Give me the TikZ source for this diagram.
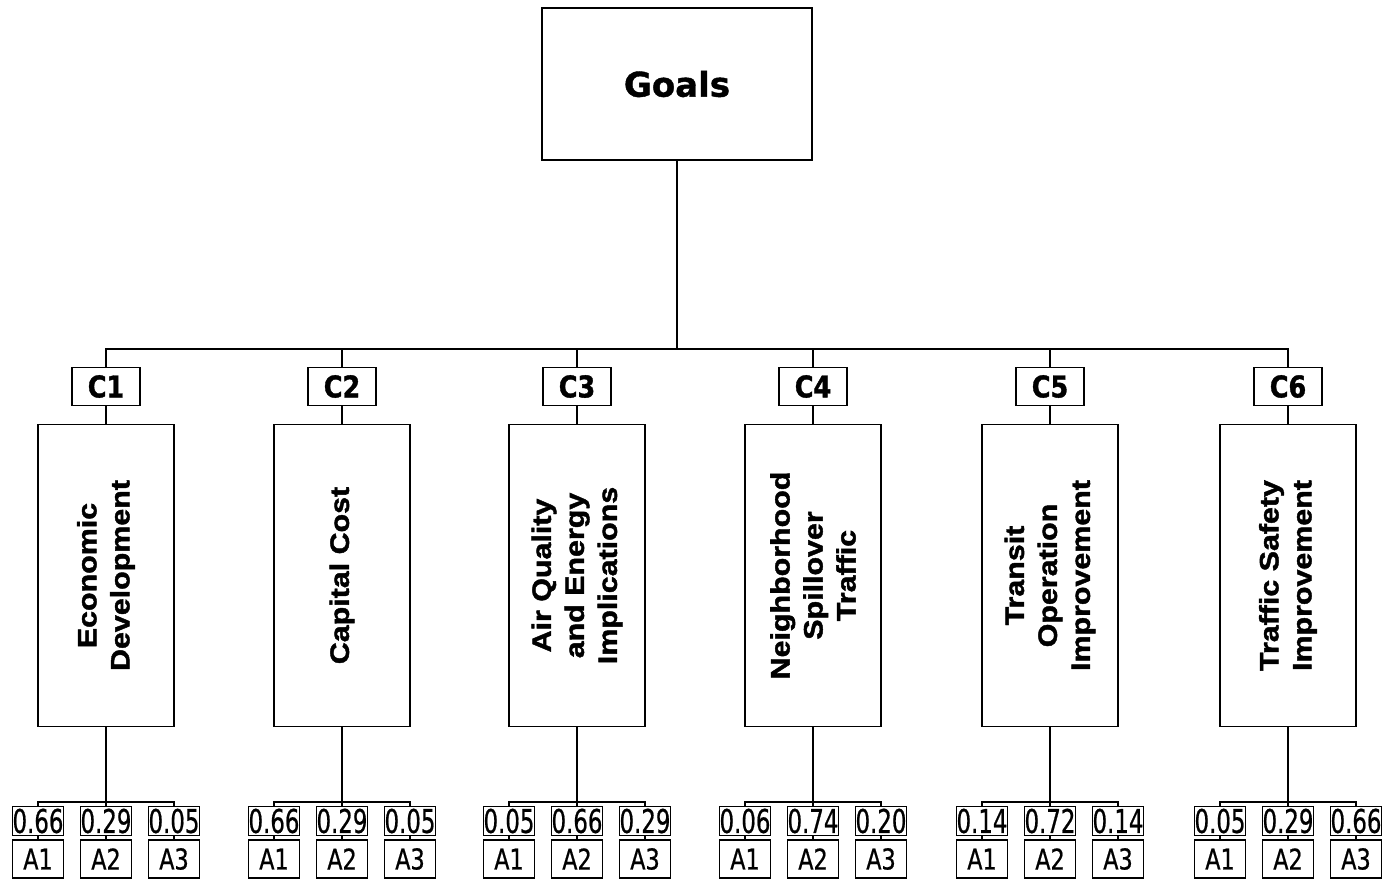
\documentclass[tikz,border=0pt]{standalone}
\usepackage{fontspec}
\setmainfont{DejaVu Sans}[BoldFeatures={FakeBold=1.2}]
\newfontfamily\labfont[FakeStretch=0.85, BoldFeatures={FakeBold=1.2}]{DejaVu Sans}
\newfontfamily\numfont[FakeStretch=0.7, FakeBold=0.6]{DejaVu Sans}
\newfontfamily\altfont[FakeStretch=0.78, FakeBold=0.6]{DejaVu Sans}
\newfontfamily\critfont[FakeStretch=1.14, BoldFeatures={FakeBold=1.6}]{Liberation Sans}

\tikzset{every picture/.style={line width=0.9pt}}
\tikzset{
	goalbox/.style={draw, inner sep=0pt, minimum width=202.5pt, minimum height=114pt, font=\fontsize{25.5}{30}\selectfont\bfseries},
	labbox/.style={draw, inner sep=0pt, minimum width=51pt, minimum height=28.5pt, font=\labfont\fontsize{22.5}{26}\selectfont\bfseries},
	critbox/.style={draw, inner sep=0pt, minimum width=102pt, minimum height=226.5pt},
	crittext/.style={rotate=90, align=center, inner sep=0pt, font=\critfont\fontsize{20}{24.75}\selectfont\bfseries},
	valbox/.style={draw, inner sep=0pt, minimum width=38.25pt, minimum height=22pt, font=\numfont\fontsize{24.5}{26}\selectfont},
	altbox/.style={draw, inner sep=0pt, minimum width=38.25pt, minimum height=28.5pt, font=\altfont\fontsize{21.5}{24}\selectfont},
}

\begin{document}
\begin{tikzpicture}[x=0.75pt,y=0.75pt,yscale=-1,xscale=1]
	\useasboundingbox (0,0) rectangle (1383,882);

	% Goal
	\node[goalbox] (goals) at (677,84) {Goals};
	\coordinate (bus) at (677,349);

	% Criteria labels
	\node[labbox] (c1) at (106,386.5) {C1};
	\node[labbox] (c2) at (342,386.5) {C2};
	\node[labbox] (c3) at (577,386.5) {C3};
	\node[labbox] (c4) at (813,386.5) {C4};
	\node[labbox] (c5) at (1050,386.5) {C5};
	\node[labbox] (c6) at (1288,386.5) {C6};

	% Criteria boxes
	\node[critbox] (crit1) at (106,575.5) {};
	\node[critbox] (crit2) at (342,575.5) {};
	\node[critbox] (crit3) at (577,575.5) {};
	\node[critbox] (crit4) at (813,575.5) {};
	\node[critbox] (crit5) at (1050,575.5) {};
	\node[critbox] (crit6) at (1288,575.5) {};
	\node[crittext] (t1) at (crit1) {Economic\\Development};
	\node[crittext] (t2) at (crit2) {Capital Cost};
	\node[crittext] (t3) at (crit3) {Air Quality\\and Energy\\Implications};
	\node[crittext] (t4) at (crit4) {Neighborhood\\Spillover\\Traffic};
	\node[crittext] (t5) at (crit5) {Transit\\Operation\\Improvement};
	\node[crittext] (t6) at (crit6) {Traffic Safety\\Improvement};

	% Weights
	\node[valbox] (v11) at (38,821) {0.66};
	\node[valbox] (v12) at (106,821) {0.29};
	\node[valbox] (v13) at (174,821) {0.05};
	\node[valbox] (v21) at (274,821) {0.66};
	\node[valbox] (v22) at (342,821) {0.29};
	\node[valbox] (v23) at (410,821) {0.05};
	\node[valbox] (v31) at (509,821) {0.05};
	\node[valbox] (v32) at (577,821) {0.66};
	\node[valbox] (v33) at (645,821) {0.29};
	\node[valbox] (v41) at (745,821) {0.06};
	\node[valbox] (v42) at (813,821) {0.74};
	\node[valbox] (v43) at (881,821) {0.20};
	\node[valbox] (v51) at (982,821) {0.14};
	\node[valbox] (v52) at (1050,821) {0.72};
	\node[valbox] (v53) at (1118,821) {0.14};
	\node[valbox] (v61) at (1220,821) {0.05};
	\node[valbox] (v62) at (1288,821) {0.29};
	\node[valbox] (v63) at (1356,821) {0.66};

	% Alternatives
	\node[altbox] (a11) at (38,859) {A1};
	\node[altbox] (a12) at (106,859) {A2};
	\node[altbox] (a13) at (174,859) {A3};
	\node[altbox] (a21) at (274,859) {A1};
	\node[altbox] (a22) at (342,859) {A2};
	\node[altbox] (a23) at (410,859) {A3};
	\node[altbox] (a31) at (509,859) {A1};
	\node[altbox] (a32) at (577,859) {A2};
	\node[altbox] (a33) at (645,859) {A3};
	\node[altbox] (a41) at (745,859) {A1};
	\node[altbox] (a42) at (813,859) {A2};
	\node[altbox] (a43) at (881,859) {A3};
	\node[altbox] (a51) at (982,859) {A1};
	\node[altbox] (a52) at (1050,859) {A2};
	\node[altbox] (a53) at (1118,859) {A3};
	\node[altbox] (a61) at (1220,859) {A1};
	\node[altbox] (a62) at (1288,859) {A2};
	\node[altbox] (a63) at (1356,859) {A3};

	% Goal to criteria
	\draw (goals.south) -- (bus);
	\draw (c1.north) |- (bus) -| (c6.north);
	\draw (c2.north) -- (c2.north |- bus);
	\draw (c3.north) -- (c3.north |- bus);
	\draw (c4.north) -- (c4.north |- bus);
	\draw (c5.north) -- (c5.north |- bus);
	\draw (c1) -- (crit1);
	\draw (c2) -- (crit2);
	\draw (c3) -- (crit3);
	\draw (c4) -- (crit4);
	\draw (c5) -- (crit5);
	\draw (c6) -- (crit6);

	% Criteria to weights
	\coordinate (s1) at (106,802);
	\coordinate (s2) at (342,802);
	\coordinate (s3) at (577,802);
	\coordinate (s4) at (813,802);
	\coordinate (s5) at (1050,802);
	\coordinate (s6) at (1288,802);
	\draw (crit1.south) -- (s1);
	\draw (crit2.south) -- (s2);
	\draw (crit3.south) -- (s3);
	\draw (crit4.south) -- (s4);
	\draw (crit5.south) -- (s5);
	\draw (crit6.south) -- (s6);
	\draw (v11.north) |- (s1) -| (v13.north);  \draw (s1) -- (v12);
	\draw (v21.north) |- (s2) -| (v23.north);  \draw (s2) -- (v22);
	\draw (v31.north) |- (s3) -| (v33.north);  \draw (s3) -- (v32);
	\draw (v41.north) |- (s4) -| (v43.north);  \draw (s4) -- (v42);
	\draw (v51.north) |- (s5) -| (v53.north);  \draw (s5) -- (v52);
	\draw (v61.north) |- (s6) -| (v63.north);  \draw (s6) -- (v62);

	% Weights to alternatives
	\draw (v11) -- (a11); \draw (v12) -- (a12); \draw (v13) -- (a13);
	\draw (v21) -- (a21); \draw (v22) -- (a22); \draw (v23) -- (a23);
	\draw (v31) -- (a31); \draw (v32) -- (a32); \draw (v33) -- (a33);
	\draw (v41) -- (a41); \draw (v42) -- (a42); \draw (v43) -- (a43);
	\draw (v51) -- (a51); \draw (v52) -- (a52); \draw (v53) -- (a53);
	\draw (v61) -- (a61); \draw (v62) -- (a62); \draw (v63) -- (a63);

\end{tikzpicture}
\end{document}
